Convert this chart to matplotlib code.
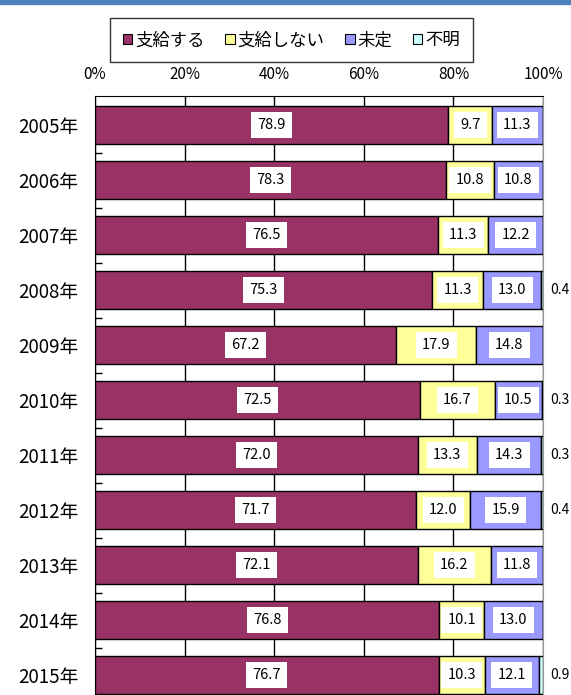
import numpy as np
import matplotlib
matplotlib.use("Agg")
import matplotlib.pyplot as plt
from matplotlib.patches import Patch, Rectangle

plt.rcParams['font.family'] = ['Noto Sans CJK JP', 'DejaVu Sans']

# data (%)
years = ['2005年', '2006年', '2007年', '2008年', '2009年', '2010年',
         '2011年', '2012年', '2013年', '2014年', '2015年']
pay = [78.9, 78.3, 76.5, 75.3, 67.2, 72.5, 72.0, 71.7, 72.1, 76.8, 76.7]
no_pay = [9.7, 10.8, 11.3, 11.3, 17.9, 16.7, 13.3, 12.0, 16.2, 10.1, 10.3]
undecided = [11.3, 10.8, 12.2, 13.0, 14.8, 10.5, 14.3, 15.9, 11.8, 13.0, 12.1]
unknown = [0.0, 0.0, 0.0, 0.4, 0.0, 0.3, 0.3, 0.4, 0.0, 0.0, 0.9]
series_names = ['支給する', '支給しない', '未定', '不明']
colors = ['#993366', '#FFFF99', '#9999FF', '#CCFFFF']

fig = plt.figure(figsize=(5.71, 6.95), dpi=100)
fig.patches.append(Rectangle((0, 0.994), 1, 0.006, transform=fig.transFigure,
                             color='#4F81BD', zorder=0))

# plot area: top at 96px, 54.7px per row
ax = fig.add_axes([0.1664, -0.0108, 0.7846, 0.8727])
y = np.arange(len(years))
left = np.zeros(len(years))
all_vals = [pay, no_pay, undecided, unknown]
for k, vals in enumerate(all_vals):
    vals = np.array(vals)
    ax.barh(y, vals, left=left, height=0.70, color=colors[k],
            edgecolor='black', linewidth=1.0, zorder=3)
    for i in range(len(years)):
        if vals[i] == 0:
            continue
        if k < 3:
            ax.text(left[i] + vals[i] / 2, y[i], f'{vals[i]:.1f}', ha='center',
                    va='center', fontsize=10.5, zorder=5,
                    bbox=dict(facecolor='white', edgecolor='none', pad=4.5))
        else:
            ax.text(101.6, y[i], f'{vals[i]:.1f}', ha='left', va='center',
                    fontsize=10, zorder=5, clip_on=False)
    left += vals

ax.set_xlim(0, 100)
ax.set_ylim(10.5, -0.53)
ax.set_xticks([0, 20, 40, 60, 80, 100])
ax.set_xticklabels(['0%', '20%', '40%', '60%', '80%', '100%'], fontsize=11)
ax.xaxis.tick_top()
ax.tick_params(axis='x', length=0, pad=9)
ax.set_yticks(y)
ax.set_yticklabels(years, fontsize=13.5)
ax.tick_params(axis='y', which='major', length=0, pad=12)
ax.set_yticks(np.arange(len(years) - 1) + 0.5, minor=True)
ax.tick_params(axis='y', which='minor', direction='in', length=5, width=1)
ax.grid(axis='x', color='black', linewidth=1.0, zorder=0)
ax.set_axisbelow(True)
for s in ['left', 'top', 'bottom']:
    ax.spines[s].set_color('black')
ax.spines['right'].set_color('#999999')

handles = [Patch(facecolor=c, edgecolor='black', linewidth=0.8) for c in colors]
fig.legend(handles, series_names, loc='center', bbox_to_anchor=(0.51, 0.942),
           ncol=4, fontsize=12.5, frameon=True, fancybox=False, edgecolor='black',
           handlelength=0.55, handleheight=0.55, handletextpad=0.15,
           columnspacing=1.2, borderpad=0.75, borderaxespad=0)

fig.savefig('out.png', dpi=100)
